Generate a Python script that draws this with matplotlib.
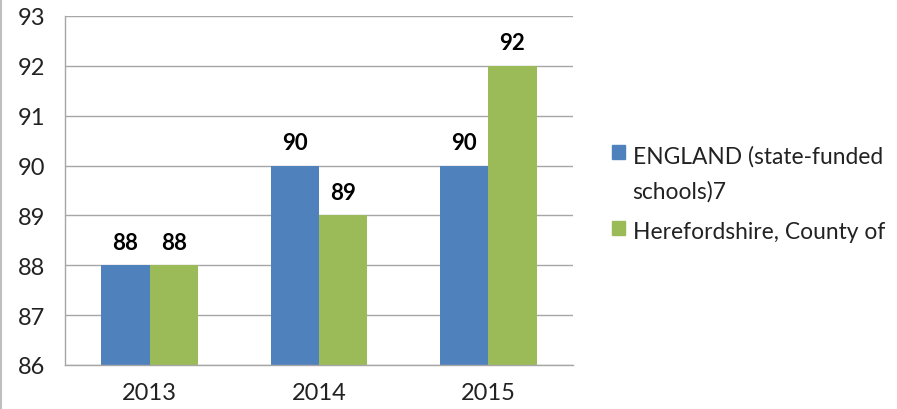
import matplotlib.pyplot as plt
import numpy as np
from matplotlib.patches import Patch
from matplotlib.lines import Line2D

years = ["2013", "2014", "2015"]
england = [88, 90, 90]
hereford = [88, 89, 92]
series_names = ["ENGLAND (state-funded\nschools)7", "Herefordshire, County of"]

blue = "#4F81BD"
green = "#9BBB59"
grid_col = "#A6A6A6"

plt.rcParams['font.family'] = ['Lato', 'DejaVu Sans']

fig = plt.figure(figsize=(8.97, 4.10), dpi=100)
ax = fig.add_axes([65 / 897, 44 / 410, 508 / 897, 349 / 410])

x = np.arange(len(years))
w = 0.285
b1 = ax.bar(x - w / 2, np.array(england) - 86, w, bottom=86, color=blue)
b2 = ax.bar(x + w / 2, np.array(hereford) - 86, w, bottom=86, color=green)

for bars, vals in [(b1, england), (b2, hereford)]:
    for rect, v in zip(bars, vals):
        ax.annotate(str(v), (rect.get_x() + rect.get_width() / 2, v),
                    xytext=(0, 9), textcoords="offset points",
                    ha="center", va="bottom", fontsize=16, fontweight="bold",
                    color="black")

ax.set_xlim(-0.5, 2.5)
ax.set_ylim(86, 93)
ax.set_yticks(range(86, 94))
ax.set_xticks(x)
ax.set_xticklabels(years)
ax.yaxis.grid(True, color=grid_col, linewidth=1)
ax.set_axisbelow(True)
ax.tick_params(length=0, labelsize=17, colors="#222222")
ax.tick_params(axis="x", pad=12)
ax.tick_params(axis="y", pad=14)
for s in ["top", "right"]:
    ax.spines[s].set_visible(False)
for s in ["left", "bottom"]:
    ax.spines[s].set_color(grid_col)
    ax.spines[s].set_linewidth(1)

handles = [Patch(color=blue), Patch(color=green)]
leg = fig.legend(handles, series_names, loc="upper left",
                 bbox_to_anchor=(612 / 897, 1 - 146 / 410), frameon=False,
                 borderpad=0, borderaxespad=0,
                 fontsize=16.4, handlelength=0.55, handleheight=0.55,
                 handletextpad=0.35, labelspacing=0.85, labelcolor="#222222")
for t in leg.get_texts():
    t.set_linespacing(1.8)
# put the square next to the first line of a wrapped label
for col in leg._legend_handle_box.get_children():
    for item in col.get_children():
        item.align = "top"

fig.add_artist(Line2D([0.5 / 897, 0.5 / 897], [0, 1], color="#BFBFBF", linewidth=1.5))

fig.savefig("out.png", dpi=100)
